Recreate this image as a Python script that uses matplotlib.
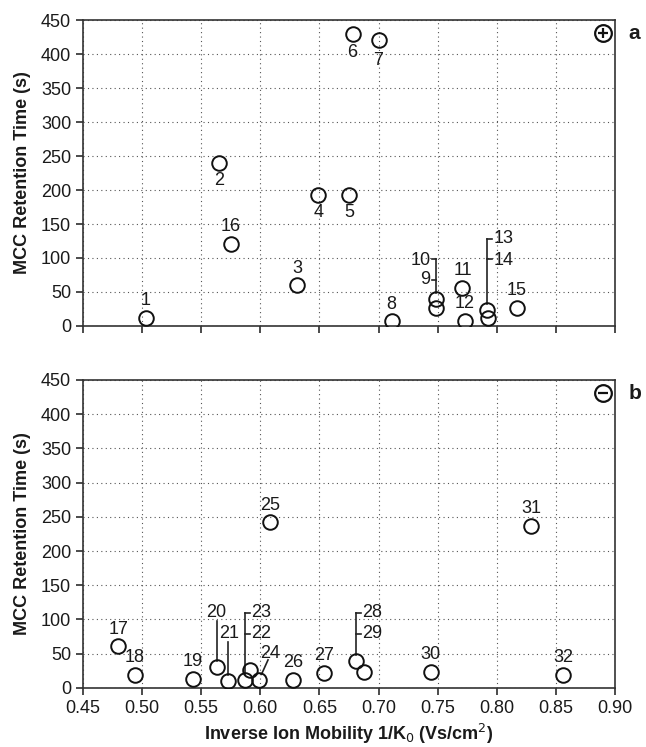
import matplotlib.pyplot as plt

plt.rcParams['font.family'] = ['Liberation Sans', 'DejaVu Sans']

# panel a (positive mode)
ids_a = [1, 2, 3, 4, 5, 6, 7, 8, 9, 10, 11, 12, 13, 14, 15, 16]
x_a = [0.503, 0.565, 0.631, 0.649, 0.675, 0.678, 0.700, 0.711, 0.749, 0.749,
       0.771, 0.773, 0.792, 0.793, 0.817, 0.575]
y_a = [12, 240, 60, 193, 193, 429, 421, 7, 26, 40, 56, 8, 23, 12, 27, 121]

# panel b (negative mode)
ids_b = [17, 18, 19, 20, 21, 22, 23, 24, 25, 26, 27, 28, 29, 30, 31, 32]
x_b = [0.480, 0.494, 0.543, 0.563, 0.573, 0.587, 0.591, 0.599, 0.608, 0.628,
       0.654, 0.681, 0.688, 0.744, 0.829, 0.856]
y_b = [61, 19, 13, 30, 10, 12, 26, 11, 242, 12, 22, 39, 24, 24, 237, 19]

xticks = [0.45, 0.50, 0.55, 0.60, 0.65, 0.70, 0.75, 0.80, 0.85, 0.90]
yticks = [0, 50, 100, 150, 200, 250, 300, 350, 400, 450]

# simple label placements: (dx, dy)
above = (0, 25)
below = (0, -26)
place_a = {1: above, 2: below, 3: above, 4: below, 5: below, 6: (0, -27),
           7: (0, -31), 8: above, 11: above, 12: above, 15: above, 16: above}
place_b = {17: above, 18: above, 19: above, 25: above, 26: above, 27: above,
           30: above, 31: above, 32: above}

fs = 13
tc = '#1a1a1a'
fig = plt.figure(figsize=(6.46, 7.47), dpi=100)
ax1 = fig.add_axes([0.1285, 0.5636, 0.8235, 0.4096])
ax2 = fig.add_axes([0.1285, 0.0790, 0.8235, 0.4126])

for ax in (ax1, ax2):
    ax.set_xlim(0.45, 0.90)
    ax.set_ylim(0, 450)
    ax.set_xticks(xticks)
    ax.set_yticks(yticks)
    ax.grid(True, linestyle=(0, (1, 3)), color='#555555', linewidth=0.8)
    for s in ax.spines.values():
        s.set_linewidth(1.2)
        s.set_color('#333333')
    ax.tick_params(direction='out', length=5, width=1.1, labelsize=fs, colors=tc)
    ax.set_ylabel('MCC Retention Time (s)', fontsize=13, fontweight='bold',
                  labelpad=7, color=tc)

ax1.set_xticklabels([])
ax2.set_xticklabels(['%.2f' % t for t in xticks])
ax2.set_xlabel('Inverse Ion Mobility 1/K$_0$ (Vs/cm$^2$)', fontsize=13,
               fontweight='bold', labelpad=4, color=tc)

mk = dict(marker='o', ms=10.5, mfc='none', mec='#111111', mew=1.4, ls='none', zorder=3)
ax1.plot(x_a, y_a, **mk)
ax2.plot(x_b, y_b, **mk)

for ax, ids, xs, ys, place in ((ax1, ids_a, x_a, y_a, place_a), (ax2, ids_b, x_b, y_b, place_b)):
    for i, x, y in zip(ids, xs, ys):
        if i in place:
            dx, dy = place[i]
            ax.text(x + dx, y + dy, str(i), ha='center', va='center', fontsize=fs, color=tc)

lk = dict(color='#222222', lw=1.2)
# 9 / 10 bracket
xa = x_a[9]
ax1.plot([xa, xa], [y_a[9] + 9, 99], **lk)
ax1.plot([xa - 0.004, xa], [99, 99], **lk)
ax1.plot([xa - 0.004, xa], [68, 68], **lk)
ax1.text(xa - 0.005, 97, '10', ha='right', va='center', fontsize=fs, color=tc)
ax1.text(xa - 0.005, 68, '9', ha='right', va='center', fontsize=fs, color=tc)
# 13 / 14 bracket
xa = x_a[12]
ax1.plot([xa, xa], [y_a[12] + 9, 128], **lk)
ax1.plot([xa, xa + 0.004], [128, 128], **lk)
ax1.plot([xa, xa + 0.004], [98, 98], **lk)
ax1.text(xa + 0.005, 128, '13', ha='left', va='center', fontsize=fs, color=tc)
ax1.text(xa + 0.005, 97, '14', ha='left', va='center', fontsize=fs, color=tc)

# 20, 21 leader lines
ax2.plot([x_b[3], x_b[3]], [y_b[3] + 9, 98], **lk)
ax2.text(x_b[3], 110, '20', ha='center', va='center', fontsize=fs, color=tc)
ax2.plot([x_b[4], x_b[4]], [y_b[4] + 9, 67], **lk)
ax2.text(x_b[4] + 0.001, 79, '21', ha='center', va='center', fontsize=fs, color=tc)
# 22 / 23 bracket
xb = x_b[5]
ax2.plot([xb, xb], [y_b[5] + 9, 110], **lk)
ax2.plot([xb, xb + 0.004], [110, 110], **lk)
ax2.plot([xb, xb + 0.004], [79, 79], **lk)
ax2.text(xb + 0.005, 110, '23', ha='left', va='center', fontsize=fs, color=tc)
ax2.text(xb + 0.005, 79, '22', ha='left', va='center', fontsize=fs, color=tc)
# 24 diagonal leader
ax2.plot([x_b[7] + 0.002, x_b[7] + 0.0075], [y_b[7] + 9, y_b[7] + 30], **lk)
ax2.text(x_b[7] + 0.009, y_b[7] + 40, '24', ha='center', va='center', fontsize=fs, color=tc)
# 28 / 29 bracket
xb = x_b[11]
ax2.plot([xb, xb], [y_b[11] + 9, 110], **lk)
ax2.plot([xb, xb + 0.004], [110, 110], **lk)
ax2.plot([xb, xb + 0.004], [79, 79], **lk)
ax2.text(xb + 0.005, 110, '28', ha='left', va='center', fontsize=fs, color=tc)
ax2.text(xb + 0.005, 79, '29', ha='left', va='center', fontsize=fs, color=tc)

# polarity symbols and panel letters
for ax, sign, letter in ((ax1, '+', 'a'), (ax2, '_', 'b')):
    ax.plot([0.977], [0.957], transform=ax.transAxes, marker='o', ms=12, mfc='none',
            mec='#111111', mew=1.6, clip_on=False)
    ax.plot([0.977], [0.957], transform=ax.transAxes, marker=sign, ms=7,
            mec='#111111', mew=1.6, clip_on=False)
    ax.text(1.025, 0.955, letter, transform=ax.transAxes, fontsize=15,
            fontweight='bold', ha='left', va='center', color=tc)

fig.savefig('out.png', dpi=100)
